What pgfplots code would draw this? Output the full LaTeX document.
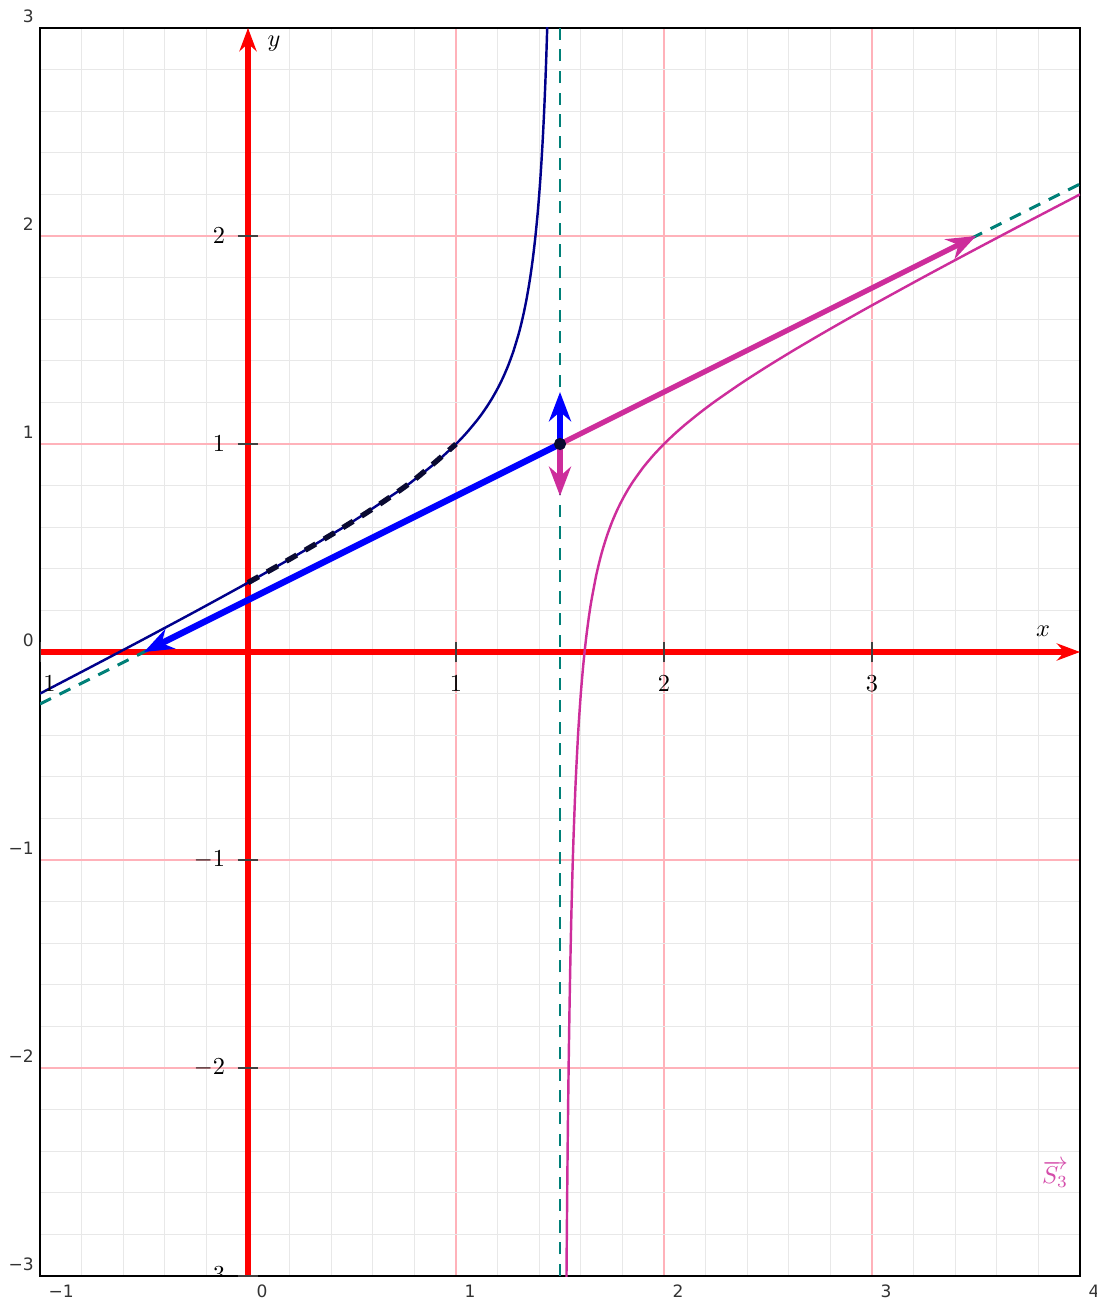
\documentclass[border=0pt]{standalone}
\usepackage{pgfplots}
\pgfplotsset{compat=1.18}
\usepackage{fontspec}
\usetikzlibrary{arrows.meta}
\newfontfamily\dejavu{DejaVu Sans}
\definecolor{navycurve}{RGB}{0,0,139}
\definecolor{darknavy}{RGB}{10,10,50}
\definecolor{magcurve}{RGB}{205,45,155}
\definecolor{asym}{RGB}{0,128,120}
\definecolor{gridpink}{RGB}{255,178,186}
\definecolor{gridgray}{RGB}{232,232,232}

\begin{document}
\begin{tikzpicture}
% outer frame: grid and the sans labels on the border
\begin{axis}[
  scale only axis,
  width=15cm, height=18cm,
  xmin=-1, xmax=4, ymin=-3, ymax=3,
  xtick={-1,0,1,2,3,4}, ytick={-3,-2,-1,0,1,2,3},
  xticklabels={−1,0,1,2,3,4},
  yticklabels={−3,−2,−1,0,1,2,3},
  minor tick num=4,
  grid=both,
  minor grid style={draw=gridgray, line width=0.5pt},
  major grid style={draw=gridpink, line width=0.6pt},
  major tick length=0pt, minor tick length=0pt,
  axis line style={black, line width=0.5pt},
  ticklabel style={font=\dejavu\scriptsize, text=black!80},
  xticklabel style={anchor=north west},
  yticklabel style={anchor=south east, xshift=1pt, yshift=-1.2pt},
]
% red axes
\addplot[red, line width=2.5pt, -{Stealth[length=9.5pt,width=7pt]}] coordinates {(-1,0) (4,0)};
\addplot[red, line width=2.5pt, -{Stealth[length=9.5pt,width=7pt]}] coordinates {(0,-3) (0,3)};

% asymptotes
\addplot[asym, line width=1.2pt, dash pattern=on 5pt off 3.9pt] coordinates {(-1,-0.25) (4,2.25)};
\addplot[asym, line width=1.2pt, dash pattern=on 5pt off 3.9pt] coordinates {(1.5,-3) (1.5,3)};

% left branch
\addplot[navycurve, line width=1pt, smooth, tension=0.4] coordinates {
  (-1,-0.2) (-0.75,-0.0694) (-0.5,0.0625) (-0.25,0.1964) (0,0.3333)
  (0.25,0.475) (0.5,0.625) (0.75,0.7917) (0.8,0.8286) (0.9,0.9083)
  (1,1) (1.05,1.0528) (1.1,1.1125) (1.125,1.1458) (1.15,1.1821)
  (1.175,1.2221) (1.2,1.2667) (1.225,1.317) (1.25,1.375) (1.275,1.4431)
  (1.3,1.525) (1.3125,1.5729) (1.325,1.6268) (1.3375,1.688) (1.35,1.7583)
  (1.36,1.8229) (1.37,1.8965) (1.38,1.9817) (1.39,2.0814) (1.395,2.138)
  (1.4,2.2) (1.405,2.2683) (1.41,2.3439) (1.415,2.4281) (1.42,2.5225)
  (1.425,2.6292) (1.43,2.7507) (1.435,2.8906) (1.44,3.0533)
};
% right branch
\addplot[magcurve, line width=1pt, smooth, tension=0.4] coordinates {
  (1.53,-3.1517) (1.532,-2.8903) (1.535,-2.5539) (1.5375,-2.3146)
  (1.54,-2.105) (1.5425,-1.9199) (1.545,-1.7553) (1.5475,-1.6078)
  (1.55,-1.475) (1.555,-1.2452) (1.56,-1.0533) (1.565,-0.8906)
  (1.575,-0.6292) (1.5875,-0.3848) (1.6,-0.2) (1.6125,-0.0549)
  (1.625,0.0625) (1.6375,0.1597) (1.65,0.2417) (1.675,0.3732)
  (1.7,0.475) (1.725,0.5569) (1.75,0.625) (1.775,0.683) (1.8,0.7333)
  (1.825,0.7779) (1.85,0.8179) (1.9,0.8875) (1.95,0.9472) (2,1)
  (2.05,1.0477) (2.1,1.0917) (2.175,1.1523) (2.25,1.2083) (2.375,1.2946)
  (2.5,1.375) (2.625,1.4514) (2.75,1.525) (2.875,1.5966) (3,1.6667)
  (3.25,1.8036) (3.5,1.9375) (3.75,2.0694) (4,2.2)
};
% dashed piece on [0,1]
\addplot[darknavy, line width=2.2pt, dash pattern=on 5pt off 4pt, smooth] coordinates {
  (0,0.3333) (0.2,0.4462) (0.4,0.5636) (0.6,0.6889) (0.8,0.8286) (1,1)
};

% vectors at (1.5,1)
\addplot[blue, line width=2.6pt, -{Stealth[length=12pt,width=9pt]}] coordinates {(1.5,1) (-0.5,0)};
\addplot[blue, line width=2.6pt, -{Stealth[length=12pt,width=9pt]}] coordinates {(1.5,1) (1.5,1.25)};
\addplot[only marks, mark=*, mark size=2.3pt, color=darknavy] coordinates {(1.5,1)};
\addplot[magcurve, line width=2.2pt, -{Stealth[length=12pt,width=9pt]}] coordinates {(1.5,1) (3.5,2)};
\addplot[magcurve, line width=2.2pt, -{Stealth[length=12pt,width=9pt]}] coordinates {(1.5,1) (1.5,0.75)};

\node[text=magcurve!85!white] at (axis cs:3.88,-2.51) {$\overrightarrow{S_3}$};
\end{axis}

% inner axes: ticks and serif labels, clipped to the frame
\begin{scope}
\clip (0,0) rectangle (15cm,18cm);
\begin{axis}[
  scale only axis,
  width=15cm, height=18cm,
  xmin=-1, xmax=4, ymin=-3, ymax=3,
  axis lines=middle,
  axis line style={draw=none},
  xtick={-1,1,2,3}, ytick={-3,-2,-1,1,2},
  tick align=center,
  major tick length=8.6pt,
  major tick style={black!75, line width=0.5pt},
  xticklabel style={yshift=-2pt},
  yticklabel style={xshift=-1.6pt},
]
\node at (axis cs:3.822,0.10) {$x$};
\node at (axis cs:0.125,2.925) {$y$};
\end{axis}
\end{scope}

\pgfresetboundingbox
\path[use as bounding box] (-16.42pt,-11.08pt) rectangle (433.36pt,523.64pt);
\end{tikzpicture}
\end{document}
